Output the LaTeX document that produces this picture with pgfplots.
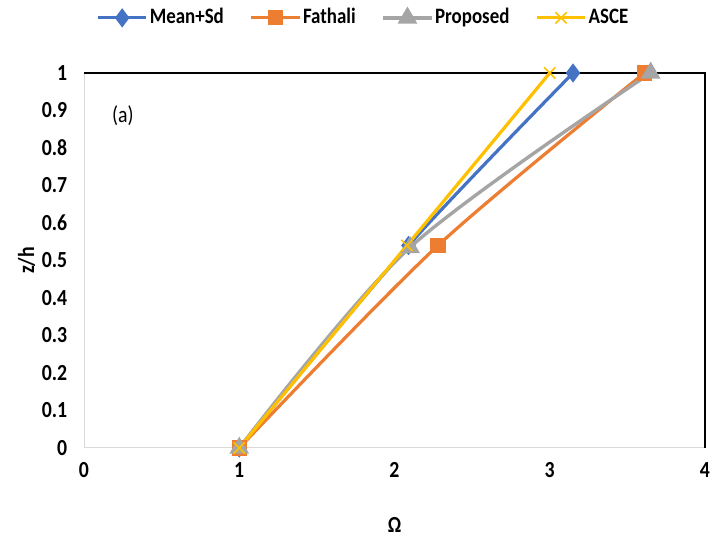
\documentclass[border=0pt]{standalone}
\usepackage{fontspec}
\setmainfont{Carlito}[FakeStretch=0.86]
\usepackage{pgfplots}
\pgfplotsset{compat=1.18}
\definecolor{cblue}{HTML}{4472C4}
\definecolor{corange}{HTML}{ED7D31}
\definecolor{cgray}{HTML}{A5A5A5}
\definecolor{cyellow}{HTML}{FFC000}
\definecolor{axgray}{HTML}{D9D9D9}
\begin{document}
\fontsize{23}{27}\selectfont
\begin{tikzpicture}[x=1pt,y=1pt]
\path[use as bounding box] (0,0) rectangle (713,544);
\begin{axis}[
  at={(84pt,96pt)}, anchor=south west,
  scale only axis, width=621pt, height=375pt,
  xmin=0, xmax=4, ymin=0, ymax=1,
  xtick={0,1,2,3,4}, ytick={0,0.1,0.2,0.3,0.4,0.5,0.6,0.7,0.8,0.9,1},
  yticklabel style={/pgf/number format/fixed, /pgf/number format/precision=1},
  /pgf/number format/assume math mode=true,
  major tick length=0pt,
  tick label style={font=\fontsize{23}{27}\selectfont\bfseries},
  xticklabel style={yshift=-7pt},
  yticklabel style={xshift=-9pt},
  axis line style={draw=none},
  xlabel={\textbf{Ω}}, ylabel={\textbf{z/h}},
  xlabel style={font=\fontsize{23}{27}\selectfont, yshift=-24pt},
  ylabel style={font=\fontsize{23}{27}\selectfont, yshift=-9pt},
  legend columns=4,
  legend style={draw=none, fill=none, at={(0.45,1.147)}, anchor=center,
    font=\fontsize{22}{26}\selectfont\bfseries,
    /tikz/every even column/.append style={column sep=24pt}},
  legend image code/.code={\draw[mark repeat=2,mark phase=2,#1] plot coordinates {(0pt,0pt)(24pt,0pt)(48pt,0pt)};},
  clip=false,
]
\draw[axgray, line width=1pt] (axis cs:0,0) -- (axis cs:4,0);
\draw[axgray, line width=1pt] (axis cs:0,0) -- (axis cs:0,1);
\draw[black, line width=1.1pt] (axis cs:0,1) -- (axis cs:4,1) -- (axis cs:4,0);
\addplot[cblue, line width=3.2pt, smooth, mark=diamond*, mark size=7pt, mark options={solid}]
  coordinates {(1,0) (2.09,0.54) (3.15,1)};
\addlegendentry{Mean+Sd}
\addplot[corange, line width=3.2pt, smooth, mark=square*, mark size=6pt]
  coordinates {(1,0) (2.28,0.54) (3.61,1)};
\addlegendentry{Fathali}
\addplot[cgray, line width=3.4pt, smooth, mark=triangle*, mark size=8pt]
  coordinates {(1,0) (2.1,0.535) (3.65,1)};
\addlegendentry{Proposed}
\addplot[cyellow, line width=3.2pt, smooth, mark=x, mark size=8pt, mark options={line width=1.6pt}]
  coordinates {(1,0) (2.08,0.54) (3.0,1)};
\addlegendentry{ASCE}
\node[anchor=center, font=\fontsize{23}{27}\selectfont] at (axis cs:0.25,0.885) {(a)};
\end{axis}
\end{tikzpicture}
\end{document}
